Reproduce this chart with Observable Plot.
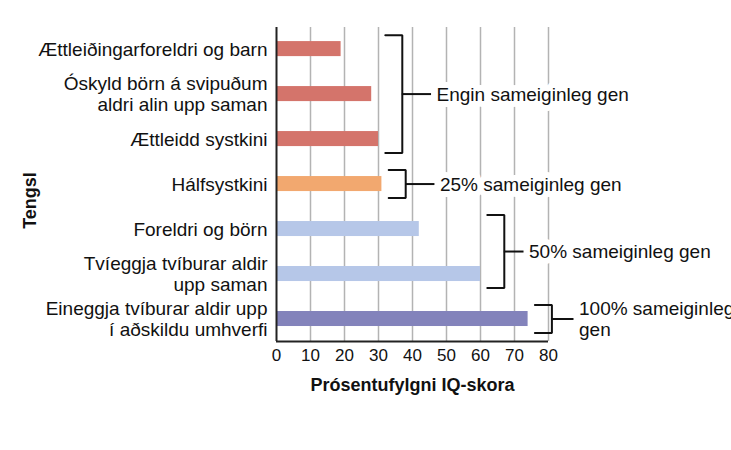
<!DOCTYPE html>
<html><head><meta charset="utf-8">
<script src="https://cdn.jsdelivr.net/npm/d3@7"></script>
<script src="https://cdn.jsdelivr.net/npm/@observablehq/plot@0.6"></script>
<style>
body{margin:0;background:#fff;}
#chart svg{font-family:"Liberation Sans",Arial,sans-serif;background:#fff;}
</style>
</head><body><div id="chart"></div>
<script>
// ---- data ----
const relationships = [
  "Ættleiðingarforeldri og barn",
  "Óskyld börn á svipuðum\naldri alin upp saman",
  "Ættleidd systkini",
  "Hálfsystkini",
  "Foreldri og börn",
  "Tvíeggja tvíburar aldir\nupp saman",
  "Eineggja tvíburar aldir upp\ní aðskildu umhverfi"
];
const correlation = [19, 28, 30, 31, 42, 60, 74];
const geneGroup = [0, 0, 0, 1, 2, 2, 3];
const groupLabels = ["Engin sameiginleg gen", "25% sameiginleg gen", "50% sameiginleg gen", "100% sameiginleg\ngen"];
const xTicks = [0, 10, 20, 30, 40, 50, 60, 70, 80];
const xLabel = "Prósentufylgni IQ-skora";
const yLabel = "Tengsl";

// ---- styles / layout ----
const groupColors = ["#d4746b", "#f2a86f", "#b6c7e8", "#8383bb"];
const bracketTick = [8.6, 8.6, 5.8, 6.5];
const yDomain = [-0.48, 6.5];
const barHalf = 0.167, bracketPad = 0.31;

const rows = relationships.map((name, i) => ({i, name, value: correlation[i], group: geneGroup[i]}));
const groups = groupLabels.map((label, g) => {
  const members = rows.filter(r => r.group === g);
  const first = d3.min(members, r => r.i), last = d3.max(members, r => r.i);
  const maxV = d3.max(members, r => r.value);
  const arm = maxV + 2, spine = maxV + 7;
  return {g, label, first, last, mid: (first + last) / 2, arm, spine, tickEnd: spine + bracketTick[g]};
});
const bracketPath = groups.flatMap(b => [
  {g: b.g, x: b.arm, y: b.first - bracketPad},
  {g: b.g, x: b.spine, y: b.first - bracketPad},
  {g: b.g, x: b.spine, y: b.last + bracketPad},
  {g: b.g, x: b.arm, y: b.last + bracketPad}
]);

const chart = Plot.plot({
  width: 731, height: 450,
  marginLeft: 276, marginRight: 183, marginTop: 27, marginBottom: 109,
  x: {domain: [0, 80]},
  y: {type: "linear", domain: yDomain, reverse: true, axis: null},
  color: {type: "ordinal", domain: [0, 1, 2, 3], range: groupColors},
  marks: [
    Plot.gridX({ticks: xTicks.filter(t => t > 0), stroke: "#b3b3b3", strokeOpacity: 1, strokeWidth: 1.5}),
    Plot.text(groups, {x: "tickEnd", y: "mid", text: "label", textAnchor: "start", dx: 5, fontSize: 19, lineHeight: 1.1, fill: "#111", stroke: "white", strokeWidth: 12}),
    Plot.rectX(rows, {x1: 0, x2: "value", y1: d => d.i - barHalf, y2: d => d.i + barHalf, fill: "group"}),
    Plot.ruleX([0], {stroke: "#222", strokeWidth: 2}),
    Plot.ruleY([yDomain[1]], {stroke: "#222", strokeWidth: 2}),
    Plot.line(bracketPath, {x: "x", y: "y", z: "g", stroke: "#111", strokeWidth: 2, strokeLinejoin: "miter"}),
    Plot.ruleY(groups, {y: "mid", x1: "spine", x2: "tickEnd", stroke: "#111", strokeWidth: 2}),
    Plot.text(rows, {frameAnchor: "left", y: "i", text: "name", textAnchor: "end", dx: -9, fontSize: 19, lineHeight: 1.08, fill: "#111"}),
    Plot.axisX({ticks: xTicks, tickSize: 0, tickPadding: 7, fontSize: 17, label: null, color: "#111"}),
    Plot.text([xLabel], {frameAnchor: "bottom", lineAnchor: "middle", dy: 44, fontWeight: "bold", fontSize: 18, fill: "#111"}),
    Plot.text([yLabel], {frameAnchor: "left", textAnchor: "middle", lineAnchor: "middle", rotate: -90, dx: -246, dy: 16, fontWeight: "bold", fontSize: 18, fill: "#111"})
  ]
});
document.getElementById("chart").append(chart);
</script>
</body></html>
